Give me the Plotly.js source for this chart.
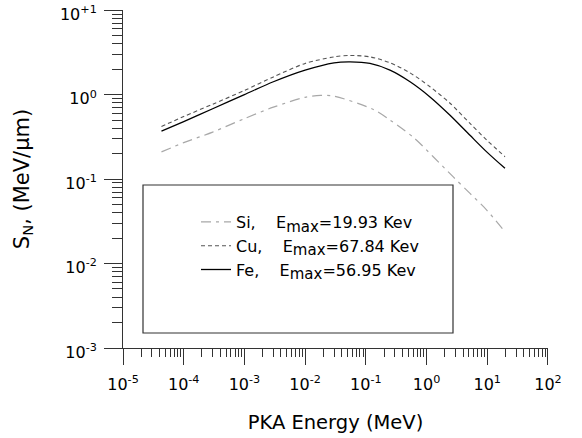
<!DOCTYPE html>
<html>
<head>
<meta charset="utf-8">
<script src="https://cdn.plot.ly/plotly-3.0.1.min.js"></script>
<style>html,body{margin:0;padding:0;background:#fff;}#chart{width:582px;height:438px;}</style>
</head>
<body>
<div id="chart"></div>
<script>
// Data
const xFe = [4.3e-5, 1e-4, 3e-4, 1e-3, 3e-3, 1e-2, 3e-2, 5.5e-2, 0.117, 0.25, 0.535, 1.14, 2.44, 5.2, 9.8, 19.6];
const yFe = [0.37, 0.48, 0.68, 1.0, 1.42, 1.95, 2.38, 2.44, 2.34, 1.95, 1.42, 0.94, 0.57, 0.33, 0.21, 0.134];
const xCu = [4.3e-5, 1e-4, 3e-4, 1e-3, 3e-3, 1e-2, 3e-2, 5.5e-2, 0.117, 0.25, 0.535, 1.14, 2.44, 5.2, 9.8, 19.6];
const yCu = [0.42, 0.55, 0.77, 1.12, 1.62, 2.34, 2.8, 2.91, 2.8, 2.38, 1.81, 1.24, 0.79, 0.456, 0.29, 0.184];
const xSi = [4.3e-5, 1e-4, 3e-4, 1e-3, 3e-3, 1e-2, 1.8e-2, 3e-2, 0.133, 0.25, 0.61, 1.29, 2.76, 5.2, 9.8, 19.6];
const ySi = [0.21, 0.27, 0.36, 0.52, 0.71, 0.93, 0.98, 0.96, 0.668, 0.50, 0.311, 0.184, 0.106, 0.0677, 0.043, 0.0238];

const SUB = '<sub><span style="font-size:15px">max</span></sub>';
const seriesNames = [
  'Si,\u00a0\u00a0\u00a0\u00a0E' + SUB + '=19.93 Kev',
  'Cu,\u00a0\u00a0\u00a0\u00a0E' + SUB + '=67.84 Kev',
  'Fe,\u00a0\u00a0\u00a0\u00a0E' + SUB + '=56.95 Kev'
];

const xTickVals = [1e-5, 1e-4, 1e-3, 1e-2, 1e-1, 1, 10, 100];
const xTickText = ['10<sup>-5</sup>', '10<sup>-4</sup>', '10<sup>-3</sup>', '10<sup>-2</sup>', '10<sup>-1</sup>', '10<sup>0</sup>', '10<sup>1</sup>', '10<sup>2</sup>'];
const yTickVals = [1e-3, 1e-2, 1e-1, 1, 10];
const yTickText = ['10<sup>-3</sup>', '10<sup>-2</sup>', '10<sup>-1</sup>', '10<sup>0</sup>', '10<sup>+1</sup>'];

function minorVals(lo, hi) {
  const v = [];
  for (let e = lo; e < hi; e++) for (let d = 2; d <= 9; d++) v.push(d * Math.pow(10, e));
  return v;
}

const FONT = 'DejaVu Sans, Arial, sans-serif';

const traces = [
  {x: xSi, y: ySi, name: seriesNames[0], mode: 'lines',
   line: {color: '#a8a8a8', width: 1.2, dash: '10px,5px,3px,5px', shape: 'spline', smoothing: 0.8}},
  {x: xCu, y: yCu, name: seriesNames[1], mode: 'lines',
   line: {color: '#555555', width: 1.1, dash: '4px,3px', shape: 'spline', smoothing: 0.8}},
  {x: xFe, y: yFe, name: seriesNames[2], mode: 'lines',
   line: {color: '#000000', width: 1.3, shape: 'spline', smoothing: 0.8}}
];

const layout = {
  width: 582, height: 438,
  margin: {l: 123, r: 34, t: 10, b: 90},
  paper_bgcolor: '#fff', plot_bgcolor: '#fff',
  font: {family: FONT, color: '#000', size: 16},
  showlegend: true,
  legend: {
    x: (196 - 123) / 425, y: (348 - 205) / 338, xanchor: 'left', yanchor: 'top',
    bgcolor: 'rgba(0,0,0,0)', borderwidth: 0,
    font: {family: FONT, size: 16, color: '#000'},
    itemwidth: 30, tracegroupgap: 0
  },
  xaxis: {
    type: 'log', range: [-5, 2.001],
    showgrid: false, zeroline: false,
    showline: true, linecolor: '#333', linewidth: 1, mirror: false,
    ticks: 'outside', ticklen: 16, tickwidth: 1, tickcolor: '#333',
    tickmode: 'array', tickvals: xTickVals, ticktext: xTickText,
    tickfont: {family: FONT, size: 16, color: '#000'},
    ticklabelstandoff: 6, ticklabeloverflow: 'allow',
    minor: {tickmode: 'array', tickvals: minorVals(-5, 2), ticks: 'outside', ticklen: 8, tickwidth: 1, tickcolor: '#333', showgrid: false},
    title: {text: 'PKA Energy (MeV)', font: {family: FONT, size: 19.5, color: '#000'}, standoff: 22}
  },
  yaxis: {
    type: 'log', range: [-3, 1.002],
    showgrid: false, zeroline: false,
    showline: true, linecolor: '#333', linewidth: 1, mirror: false,
    ticks: 'outside', ticklen: 18, tickwidth: 1, tickcolor: '#333',
    tickmode: 'array', tickvals: yTickVals, ticktext: yTickText,
    tickfont: {family: FONT, size: 16, color: '#000'},
    ticklabelstandoff: 4, ticklabelshift: 4, ticklabeloverflow: 'allow',
    minor: {tickmode: 'array', tickvals: minorVals(-3, 1), ticks: 'outside', ticklen: 10, tickwidth: 1, tickcolor: '#333', showgrid: false},
    title: {text: 'S<sub>N</sub>, (MeV/μm)', font: {family: FONT, size: 21, color: '#000'}, standoff: 24}
  },
  shapes: [
    {type: 'rect', xref: 'paper', yref: 'paper',
     x0: (143 - 123) / 425, x1: (453 - 123) / 425,
     y0: (348 - 333) / 338, y1: (348 - 185) / 338,
     line: {color: '#333', width: 1.2}, fillcolor: 'rgba(0,0,0,0)'}
  ]
};

Plotly.newPlot('chart', traces, layout, {displayModeBar: false, staticPlot: true});
</script>
</body>
</html>
